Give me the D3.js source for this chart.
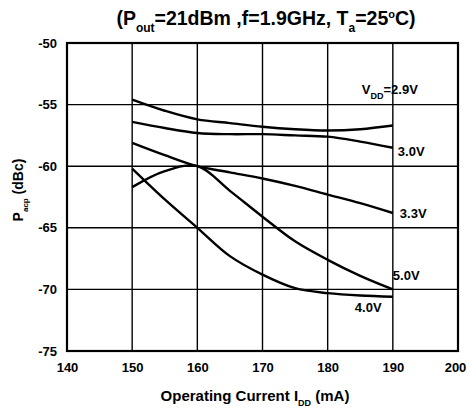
<!DOCTYPE html>
<html>
<head>
<meta charset="utf-8">
<script src="https://cdn.jsdelivr.net/npm/d3@7"></script>
<style>
  body { margin: 0; background: #fff; }
  svg { font-family: "Liberation Sans", Arial, sans-serif; font-weight: bold; }
  .grid line { stroke: #000; stroke-width: 1.4; }
  .curve { fill: none; stroke: #000; stroke-width: 2.4; }
</style>
</head>
<body>
<svg width="470" height="409"></svg>
<script>
// x values (mA) shared by all curves
var current = [150, 155, 160, 165, 170, 175, 180, 185, 190];

// Pacp (dBc) per VDD
var v29 = [-54.6, -55.5, -56.2, -56.5, -56.8, -57.0, -57.1, -57.0, -56.7];
var v30 = [-56.4, -56.9, -57.3, -57.4, -57.4, -57.5, -57.6, -58.0, -58.5];
var v33 = [-58.1, -59.1, -60.0, -60.5, -61.0, -61.6, -62.3, -63.0, -63.8];
var v50 = [-61.7, -60.4, -60.0, -62.0, -64.1, -66.1, -67.6, -68.9, -70.0];
var v40 = [-60.2, -62.7, -65.0, -67.3, -68.8, -69.9, -70.3, -70.5, -70.6];

var seriesNames = ["2.9V", "3.0V", "3.3V", "5.0V", "4.0V"];
var xTicks = [140, 150, 160, 170, 180, 190, 200];
var yTicks = [-50, -55, -60, -65, -70, -75];

var svg = d3.select("svg"),
    margin = {top: 43, right: 12, bottom: 58, left: 67},
    width = +svg.attr("width") - margin.left - margin.right,
    height = +svg.attr("height") - margin.top - margin.bottom;

var x = d3.scaleLinear().domain([140, 200]).range([0, width]),
    y = d3.scaleLinear().domain([-75, -50]).range([height, 0]);

var g = svg.append("g")
    .attr("transform", "translate(" + margin.left + "," + margin.top + ")");

// grid
var grid = g.append("g").attr("class", "grid");
grid.selectAll(".gx").data(xTicks).enter().append("line")
    .attr("x1", function(d) { return x(d); })
    .attr("x2", function(d) { return x(d); })
    .attr("y1", 0).attr("y2", height);
grid.selectAll(".gy").data(yTicks).enter().append("line")
    .attr("y1", function(d) { return y(d); })
    .attr("y2", function(d) { return y(d); })
    .attr("x1", 0).attr("x2", width);

// frame
g.append("rect")
    .attr("width", width).attr("height", height)
    .attr("fill", "none").attr("stroke", "#000").attr("stroke-width", 2.2);

// axes, using d3 axis for label placement only
var xAxis = g.append("g")
    .attr("transform", "translate(0," + height + ")")
    .call(d3.axisBottom(x).tickValues(xTicks).tickSize(0).tickPadding(12).tickFormat(d3.format("d")));
var yAxis = g.append("g")
    .call(d3.axisLeft(y).tickValues(yTicks).tickSize(0).tickPadding(10).tickFormat(function(d) { return "-" + Math.abs(d); }));
[xAxis, yAxis].forEach(function(a) {
  a.select(".domain").remove();
  a.selectAll("text").attr("font-size", 13).attr("font-weight", "bold")
    .attr("font-family", "'Liberation Sans', Arial, sans-serif").attr("fill", "#000");
});
// keep the last x label inside the window
xAxis.selectAll("text").filter(function(d) { return d === 200; }).attr("dx", -3);

// curves
var line = d3.line()
    .x(function(d, i) { return x(current[i]); })
    .y(function(d) { return y(d); })
    .curve(d3.curveCatmullRom.alpha(0.5));

[v29, v30, v33, v50, v40].forEach(function(s) {
  g.append("path").attr("class", "curve").attr("d", line(s));
});

// curve labels
function label(txt, px, py) {
  return g.append("text").attr("x", px).attr("y", py)
    .attr("font-size", 13).text(txt);
}
var vdd = g.append("text").attr("x", x(190) - 31).attr("y", y(-54.1)).attr("font-size", 13);
vdd.append("tspan").text("V");
vdd.append("tspan").attr("font-size", 9).attr("dy", 5).text("DD");
vdd.append("tspan").attr("dy", -5).text("=" + seriesNames[0]);
label(seriesNames[1], x(190) + 5, y(v30[8]) + 8);
label(seriesNames[2], x(190) + 7, y(v33[8]) + 5);
label(seriesNames[3], x(190), y(v50[8]) - 9);
label(seriesNames[4], x(190) - 38, y(v40[8]) + 15);

// title
var title = svg.append("text").attr("x", 266).attr("y", 25)
    .attr("text-anchor", "middle").attr("font-size", 19.5);
title.append("tspan").text("(P");
title.append("tspan").attr("font-size", 12).attr("dy", 7).text("out");
title.append("tspan").attr("dy", -7).text("=21dBm ,f=1.9GHz, T");
title.append("tspan").attr("font-size", 12).attr("dy", 7).text("a");
title.append("tspan").attr("dy", -7).text("=25");
title.append("tspan").attr("font-size", 11).attr("dy", -7).text("o");
title.append("tspan").attr("dy", 7).text("C)");

// x title
var xt = svg.append("text").attr("x", 255).attr("y", 401)
    .attr("text-anchor", "middle").attr("font-size", 15);
xt.append("tspan").text("Operating Current  I");
xt.append("tspan").attr("font-size", 9).attr("dy", 5).text("DD");
xt.append("tspan").attr("dy", -5).text(" (mA)");

// y title
var yt = svg.append("text").attr("transform", "translate(23,190) rotate(-90)")
    .attr("text-anchor", "middle").attr("font-size", 14);
yt.append("tspan").text("P");
yt.append("tspan").attr("font-size", 8).attr("dy", 5).text("acp");
yt.append("tspan").attr("dy", -5).text(" (dBc)");
</script>
</body>
</html>
